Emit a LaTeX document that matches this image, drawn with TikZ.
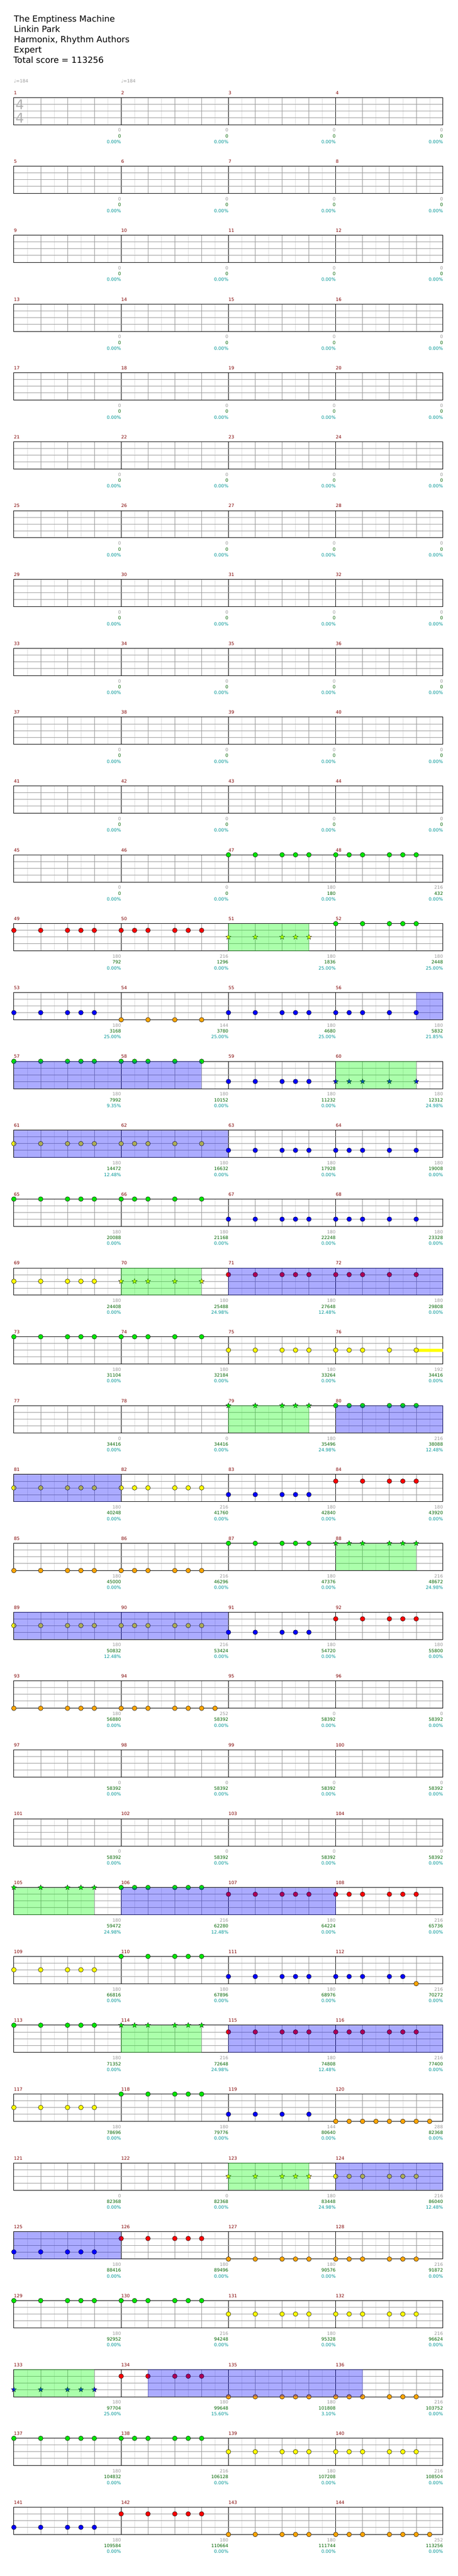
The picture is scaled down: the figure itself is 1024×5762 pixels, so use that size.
\documentclass[tikz,border=0pt]{standalone}
\usepackage{fontspec}
\setmainfont{DejaVu Sans}
\usetikzlibrary{shapes.geometric}

\definecolor{barred}{RGB}{128,0,0}
\definecolor{gaingray}{RGB}{153,153,153}
\definecolor{totgreen}{RGB}{0,100,0}
\definecolor{pcteal}{RGB}{0,150,150}
\definecolor{lightrule}{RGB}{221,221,221}
\definecolor{midrule}{RGB}{153,153,153}
\definecolor{gemgreen}{RGB}{0,230,0}
\definecolor{gemred}{RGB}{255,0,0}
\definecolor{gemyellow}{RGB}{255,255,0}
\definecolor{gemblue}{RGB}{0,0,255}
\definecolor{gemorange}{RGB}{255,165,0}

% riff patterns, in eighths of a bar
\def\riffa{0,2,4,5,6}
\def\riffb{0,1,2,4,5,6}
\def\riffc{0,2,4,6}
\def\riffd{0,1,2,4,6}
\def\riffe{0,1,2,4,5,6,7}
\def\rifff{0,1,2,3,4,5,6,7}
\def\riffg{0,1,2,4,5}

% gems of one bar: [style]{bar}{lane}{colour}{eighths}
\newcommand{\gems}[5][gem]{%
  \pgfmathtruncatemacro{\rw}{(#2-1)/4}%
  \pgfmathtruncatemacro{\cl}{#2-1-4*\rw}%
  \pgfmathsetmacro{\ly}{218+154*\rw+15*#3+(#3==4)}%
  \edef\gemlist{#5}%
  \foreach \p in \gemlist{
    \node[#1, fill=#4] (n#2-#3-\p) at ({31+240*(\cl+\p/8)}, -\ly) {};
  }}

% star power / overdrive band: {first bar of row}{from}{to}{style}
\newcommand{\band}[4]{%
  \pgfmathtruncatemacro{\rw}{(#1-1)/4}%
  \pgfmathsetmacro{\yt}{218+154*\rw}%
  \fill[#4] ({31+240*#2}, -\yt) rectangle ({31+240*#3}, -\yt-61);}

% score lines under a bar
\newcommand{\score}[4]{%
  \pgfmathtruncatemacro{\rw}{(#1-1)/4}%
  \pgfmathtruncatemacro{\cl}{#1-1-4*\rw}%
  \pgfmathsetmacro{\xr}{31+240*(\cl+1)}%
  \pgfmathsetmacro{\yt}{218+154*\rw}%
  \node[gainlabel] (gain#1) at (\xr, -\yt-77) {#2};
  \node[totlabel] (tot#1) at (\xr, -\yt-90) {#3};
  \node[pctlabel] (pct#1) at (\xr, -\yt-103) {#4\%};}

\begin{document}
\begin{tikzpicture}[x=1pt, y=1pt,
    small/.style={font=\fontsize{10}{12}\selectfont, inner sep=0pt},
    titleline/.style={font=\fontsize{19}{23}\selectfont, inner sep=0pt, anchor=base west},
    barlabel/.style={small, text=barred, anchor=base west},
    gainlabel/.style={small, text=gaingray, anchor=base east},
    totlabel/.style={small, text=totgreen, anchor=base east},
    pctlabel/.style={small, text=pcteal, anchor=base east},
    tempo/.style={small, text=gaingray, anchor=base west},
    timesig/.style={font=\fontsize{30}{30}\selectfont, text=gray!60, inner sep=0pt, anchor=base west},
    eighthline/.style={lightrule, line width=0.8pt},
    beatline/.style={midrule, line width=0.8pt},
    barline/.style={black, line width=0.8pt},
    laneline/.style={midrule, line width=0.9pt},
    staffframe/.style={black, line width=1.1pt},
    gem/.style={circle, draw=black, line width=0.6pt, minimum size=10.5pt, inner sep=0pt},
    gemstar/.style={star, star points=5, star point ratio=2.3, draw=black, line width=0.5pt, minimum size=12pt, inner sep=0pt},
    sustain/.style={fill=gemyellow},
    spzone/.style={fill=green, fill opacity=0.33},
    odzone/.style={fill=blue, fill opacity=0.33}]

  \fill[white] (0,0) rectangle (1024,-5762);
  \useasboundingbox (0,0) rectangle (1024,-5762);

  % song header
  \node[titleline] (title) at (31,-49) {The Emptiness Machine};
  \node[titleline] (artist) at (31,-72) {Linkin Park};
  \node[titleline] (authors) at (31,-95) {Harmonix, Rhythm Authors};
  \node[titleline] (level) at (31,-118) {Expert};
  \node[titleline] (total) at (30,-141) {Total score = 113256};

  % tempo marks
  \node[tempo] (tempo1) at (31,-185) {♩=184};
  \node[tempo] (tempo2) at (271,-185) {♩=184};

  % draw the staffs
  \foreach \k in {0,...,35}{
    \pgfmathsetmacro{\yt}{218+154*\k}
    \foreach \e in {1,3,...,31}
      \draw[eighthline] ({31+30*\e}, -\yt) -- ++(0,-61);
    \foreach \e in {2,4,...,30}
      \draw[beatline] ({31+30*\e}, -\yt) -- ++(0,-61);
    \foreach \e in {8,16,24}
      \draw[barline] ({31+30*\e}, -\yt) -- ++(0,-61);
    \foreach \l in {15,30,45}
      \draw[laneline] (31, -\yt-\l) -- (991, -\yt-\l);
    \draw[staffframe] (31, -\yt) rectangle (991, -\yt-61);
  }

  % time signature
  \node[timesig] (sigtop) at (34.5,-245) {4};
  \node[timesig] (sigbot) at (34.5,-275) {4};

  % bar numbers
  \foreach \m in {1,...,144}{
    \pgfmathtruncatemacro{\rw}{(\m-1)/4}
    \pgfmathtruncatemacro{\cl}{\m-1-4*\rw}
    \pgfmathsetmacro{\yt}{218+154*\rw}
    \node[barlabel] (bar\m) at ({31+240*\cl}, -\yt+7) {\m};
  }

  % sustain on bar 76
  \fill[sustain] (931,-3016.5) rectangle (991,-3023.5);

  % gems
  \gems{47}{0}{gemgreen}{\riffa}
  \gems{48}{0}{gemgreen}{\riffb}
  \gems{49}{1}{gemred}{\riffa}
  \gems{50}{1}{gemred}{\riffb}
  \gems[gemstar]{51}{2}{gemyellow}{\riffa}
  \gems{52}{0}{gemgreen}{\riffa}
  \gems{53}{3}{gemblue}{\riffa}
  \gems{54}{4}{gemorange}{\riffc}
  \gems{55}{3}{gemblue}{\riffa}
  \gems{56}{3}{gemblue}{\riffd}
  \gems{57}{0}{gemgreen}{\riffa}
  \gems{58}{0}{gemgreen}{\riffd}
  \gems{59}{3}{gemblue}{\riffa}
  \gems[gemstar]{60}{3}{gemblue}{\riffd}
  \gems{61}{2}{gemyellow}{\riffa}
  \gems{62}{2}{gemyellow}{\riffd}
  \gems{63}{3}{gemblue}{\riffa}
  \gems{64}{3}{gemblue}{\riffd}
  \gems{65}{0}{gemgreen}{\riffa}
  \gems{66}{0}{gemgreen}{\riffd}
  \gems{67}{3}{gemblue}{\riffa}
  \gems{68}{3}{gemblue}{\riffd}
  \gems{69}{2}{gemyellow}{\riffa}
  \gems[gemstar]{70}{2}{gemyellow}{\riffd}
  \gems{71}{1}{gemred}{\riffa}
  \gems{72}{1}{gemred}{\riffd}
  \gems{73}{0}{gemgreen}{\riffa}
  \gems{74}{0}{gemgreen}{\riffd}
  \gems{75}{2}{gemyellow}{\riffa}
  \gems{76}{2}{gemyellow}{\riffd}
  \gems[gemstar]{79}{0}{gemgreen}{\riffa}
  \gems{80}{0}{gemgreen}{\riffb}
  \gems{81}{2}{gemyellow}{\riffa}
  \gems{82}{2}{gemyellow}{\riffb}
  \gems{83}{3}{gemblue}{\riffa}
  \gems{84}{1}{gemred}{\riffa}
  \gems{85}{4}{gemorange}{\riffa}
  \gems{86}{4}{gemorange}{\riffb}
  \gems{87}{0}{gemgreen}{\riffa}
  \gems[gemstar]{88}{0}{gemgreen}{\riffb}
  \gems{89}{2}{gemyellow}{\riffa}
  \gems{90}{2}{gemyellow}{\riffb}
  \gems{91}{3}{gemblue}{\riffa}
  \gems{92}{1}{gemred}{\riffa}
  \gems{93}{4}{gemorange}{\riffa}
  \gems{94}{4}{gemorange}{\riffe}
  \gems[gemstar]{105}{0}{gemgreen}{\riffa}
  \gems{106}{0}{gemgreen}{\riffb}
  \gems{107}{1}{gemred}{\riffa}
  \gems{108}{1}{gemred}{\riffb}
  \gems{109}{2}{gemyellow}{\riffa}
  \gems{110}{0}{gemgreen}{\riffa}
  \gems{111}{3}{gemblue}{\riffa}
  \gems{112}{3}{gemblue}{\riffg}
  \gems{112}{4}{gemorange}{6}
  \gems{113}{0}{gemgreen}{\riffa}
  \gems[gemstar]{114}{0}{gemgreen}{\riffb}
  \gems{115}{1}{gemred}{\riffa}
  \gems{116}{1}{gemred}{\riffb}
  \gems{117}{2}{gemyellow}{\riffa}
  \gems{118}{0}{gemgreen}{\riffa}
  \gems{119}{3}{gemblue}{\riffc}
  \gems{120}{4}{gemorange}{\rifff}
  \gems[gemstar]{123}{2}{gemyellow}{\riffa}
  \gems{124}{2}{gemyellow}{\riffb}
  \gems{125}{3}{gemblue}{\riffa}
  \gems{126}{1}{gemred}{\riffa}
  \gems{127}{4}{gemorange}{\riffa}
  \gems{128}{4}{gemorange}{\riffb}
  \gems{129}{0}{gemgreen}{\riffa}
  \gems{130}{0}{gemgreen}{\riffb}
  \gems{131}{2}{gemyellow}{\riffa}
  \gems{132}{2}{gemyellow}{\riffb}
  \gems[gemstar]{133}{3}{gemblue}{\riffa}
  \gems{134}{1}{gemred}{\riffa}
  \gems{135}{4}{gemorange}{\riffa}
  \gems{136}{4}{gemorange}{\riffb}
  \gems{137}{0}{gemgreen}{\riffa}
  \gems{138}{0}{gemgreen}{\riffb}
  \gems{139}{2}{gemyellow}{\riffa}
  \gems{140}{2}{gemyellow}{\riffb}
  \gems{141}{3}{gemblue}{\riffa}
  \gems{142}{1}{gemred}{\riffa}
  \gems{143}{4}{gemorange}{\riffa}
  \gems{144}{4}{gemorange}{\riffe}

  % star power and overdrive bands
  \band{49}{2}{2.75}{spzone}
  \band{53}{3.75}{4}{odzone}
  \band{57}{0}{1.75}{odzone}
  \band{57}{3}{3.75}{spzone}
  \band{61}{0}{2}{odzone}
  \band{69}{1}{1.75}{spzone}
  \band{69}{2}{4}{odzone}
  \band{77}{2}{2.75}{spzone}
  \band{77}{3}{4}{odzone}
  \band{81}{0}{1}{odzone}
  \band{85}{3}{3.75}{spzone}
  \band{89}{0}{2}{odzone}
  \band{105}{0}{0.75}{spzone}
  \band{105}{1}{3}{odzone}
  \band{113}{1}{1.75}{spzone}
  \band{113}{2}{4}{odzone}
  \band{121}{2}{2.75}{spzone}
  \band{121}{3}{4}{odzone}
  \band{125}{0}{1}{odzone}
  \band{133}{0}{0.75}{spzone}
  \band{133}{1.25}{3.25}{odzone}

  % scores under the bars
  \foreach \m in {1,...,46} \score{\m}{0}{0}{0.00};
  \foreach \m in {95,...,104} \score{\m}{0}{58392}{0.00};
  \foreach \m/\gain/\tot/\pct in {
      47/180/180/0.00, 48/216/432/0.00,
      49/180/792/0.00, 50/216/1296/0.00, 51/180/1836/25.00, 52/180/2448/25.00,
      53/180/3168/25.00, 54/144/3780/25.00, 55/180/4680/25.00, 56/180/5832/21.85,
      57/180/7992/9.35, 58/180/10152/0.00, 59/180/11232/0.00, 60/180/12312/24.98,
      61/180/14472/12.48, 62/180/16632/0.00, 63/180/17928/0.00, 64/180/19008/0.00,
      65/180/20088/0.00, 66/180/21168/0.00, 67/180/22248/0.00, 68/180/23328/0.00,
      69/180/24408/0.00, 70/180/25488/24.98, 71/180/27648/12.48, 72/180/29808/0.00,
      73/180/31104/0.00, 74/180/32184/0.00, 75/180/33264/0.00, 76/192/34416/0.00,
      77/0/34416/0.00, 78/0/34416/0.00, 79/180/35496/24.98, 80/216/38088/12.48,
      81/180/40248/0.00, 82/216/41760/0.00, 83/180/42840/0.00, 84/180/43920/0.00,
      85/180/45000/0.00, 86/216/46296/0.00, 87/180/47376/0.00, 88/216/48672/24.98,
      89/180/50832/12.48, 90/216/53424/0.00, 91/180/54720/0.00, 92/180/55800/0.00,
      93/180/56880/0.00, 94/252/58392/0.00,
      105/180/59472/24.98, 106/216/62280/12.48, 107/180/64224/0.00, 108/216/65736/0.00,
      109/180/66816/0.00, 110/180/67896/0.00, 111/180/68976/0.00, 112/216/70272/0.00,
      113/180/71352/0.00, 114/216/72648/24.98, 115/180/74808/12.48, 116/216/77400/0.00,
      117/180/78696/0.00, 118/180/79776/0.00, 119/144/80640/0.00, 120/288/82368/0.00,
      121/0/82368/0.00, 122/0/82368/0.00, 123/180/83448/24.98, 124/216/86040/12.48,
      125/180/88416/0.00, 126/180/89496/0.00, 127/180/90576/0.00, 128/216/91872/0.00,
      129/180/92952/0.00, 130/216/94248/0.00, 131/180/95328/0.00, 132/216/96624/0.00,
      133/180/97704/25.00, 134/180/99648/15.60, 135/180/101808/3.10, 136/216/103752/0.00,
      137/180/104832/0.00, 138/216/106128/0.00, 139/180/107208/0.00, 140/216/108504/0.00,
      141/180/109584/0.00, 142/180/110664/0.00, 143/180/111744/0.00, 144/252/113256/0.00}
    \score{\m}{\gain}{\tot}{\pct};
\end{tikzpicture}
\end{document}
